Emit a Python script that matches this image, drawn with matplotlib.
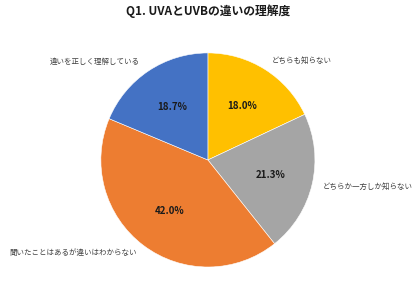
import matplotlib
matplotlib.use("Agg")
import matplotlib.pyplot as plt

plt.rcParams["font.family"] = ["Noto Sans CJK JP", "DejaVu Sans"]

# data (clockwise from 12 o'clock)
categories = ["どちらも知らない", "どちらか一方しか知らない",
              "聞いたことはあるが違いはわからない", "違いを正しく理解している"]
shares = [18.0, 21.3, 42.0, 18.7]
colors = ["#FFC000", "#A5A5A5", "#ED7D31", "#4472C4"]
title = "Q1. UVAとUVBの違いの理解度"

# category label placement (unit = pie radius), like Excel's outside labels
label_pos = [(0.60, 0.93, "left"), (1.07, -0.25, "left"),
             (-0.66, -0.87, "right"), (-0.64, 0.92, "right")]

fig = plt.figure(figsize=(4.2, 2.99), dpi=100)
ax = fig.add_axes([0.495 - 0.255, 0.465 - 0.358, 0.51, 0.716])

wedges, texts, autotexts = ax.pie(
    shares, colors=colors, startangle=90, counterclock=False,
    autopct="%.1f%%", pctdistance=0.6,
    wedgeprops=dict(edgecolor="white", linewidth=0.4),
    textprops=dict(fontsize=7, fontweight="bold", color="#1a1a1a"),
)
ax.set_xlim(-1, 1)
ax.set_ylim(-1, 1)
ax.set_aspect("equal")

for cat, (x, y, ha) in zip(categories, label_pos):
    ax.text(x, y, cat, ha=ha, va="center", fontsize=5.4, color="#404040",
            clip_on=False)

fig.text(0.495, 0.963, title, ha="center", va="center",
         fontsize=8.5, fontweight="bold", color="#1a1a1a")

fig.savefig("out.png", dpi=100)
